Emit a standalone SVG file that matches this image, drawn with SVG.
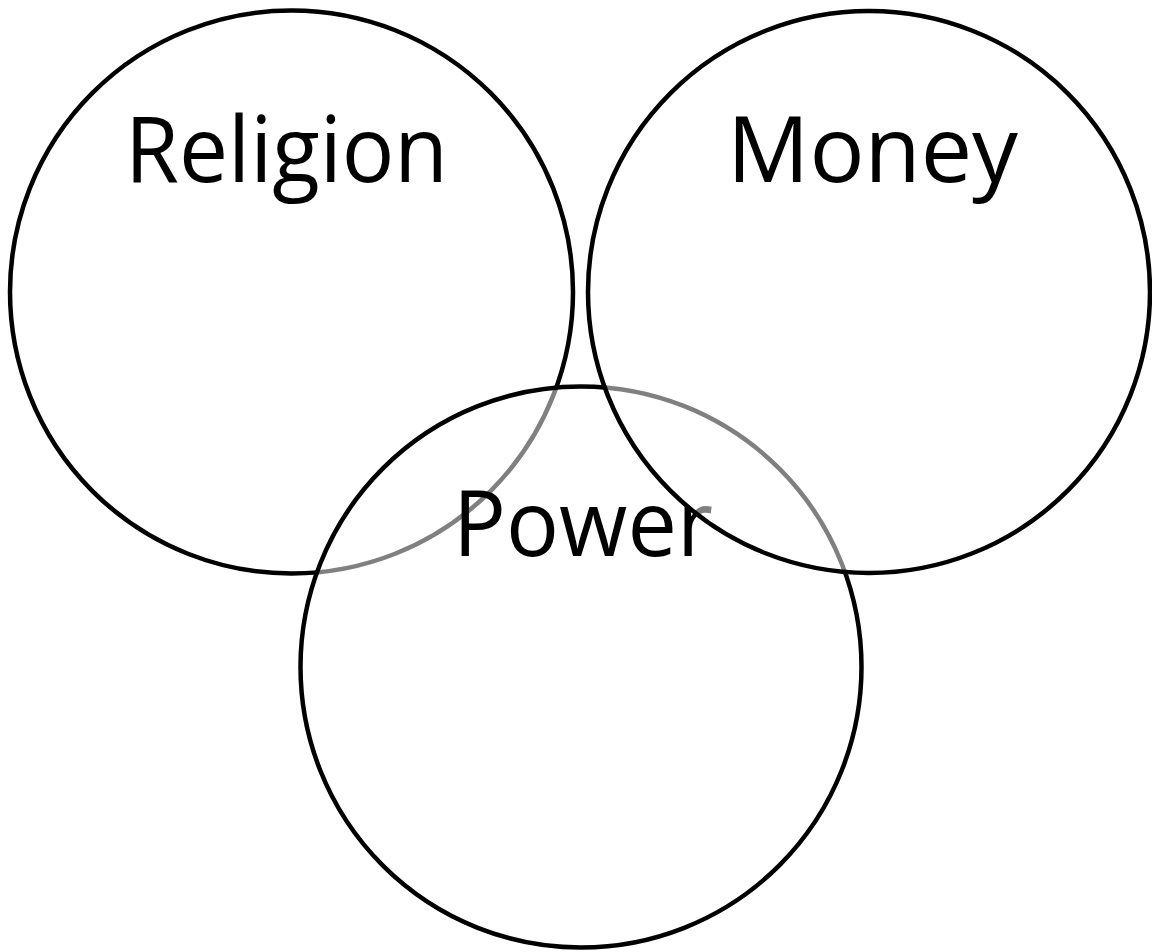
<svg xmlns="http://www.w3.org/2000/svg" width="1152" height="952" viewBox="0 0 1152 952">
<style>
.c{fill:#fff;fill-opacity:0.5;stroke:#000;stroke-width:4.5}
.t{font-family:"Open Sans","Noto Sans",sans-serif;font-size:91px;fill:#000}
</style>
<rect width="1152" height="952" fill="#fff"/>
<g id="religion">
<circle class="c" cx="291.5" cy="292" r="281.5"/>
<text class="t" x="125" y="182" textLength="323" lengthAdjust="spacingAndGlyphs">Religion</text>
</g>
<g id="power">
<circle class="c" cx="581" cy="667" r="280.5"/>
<text class="t" x="453" y="556" textLength="260" lengthAdjust="spacingAndGlyphs">Power</text>
</g>
<g id="money">
<circle class="c" cx="869" cy="292" r="281"/>
<text class="t" x="727" y="182" textLength="291" lengthAdjust="spacingAndGlyphs">Money</text>
</g>
<g id="connectors"></g>
</svg>
